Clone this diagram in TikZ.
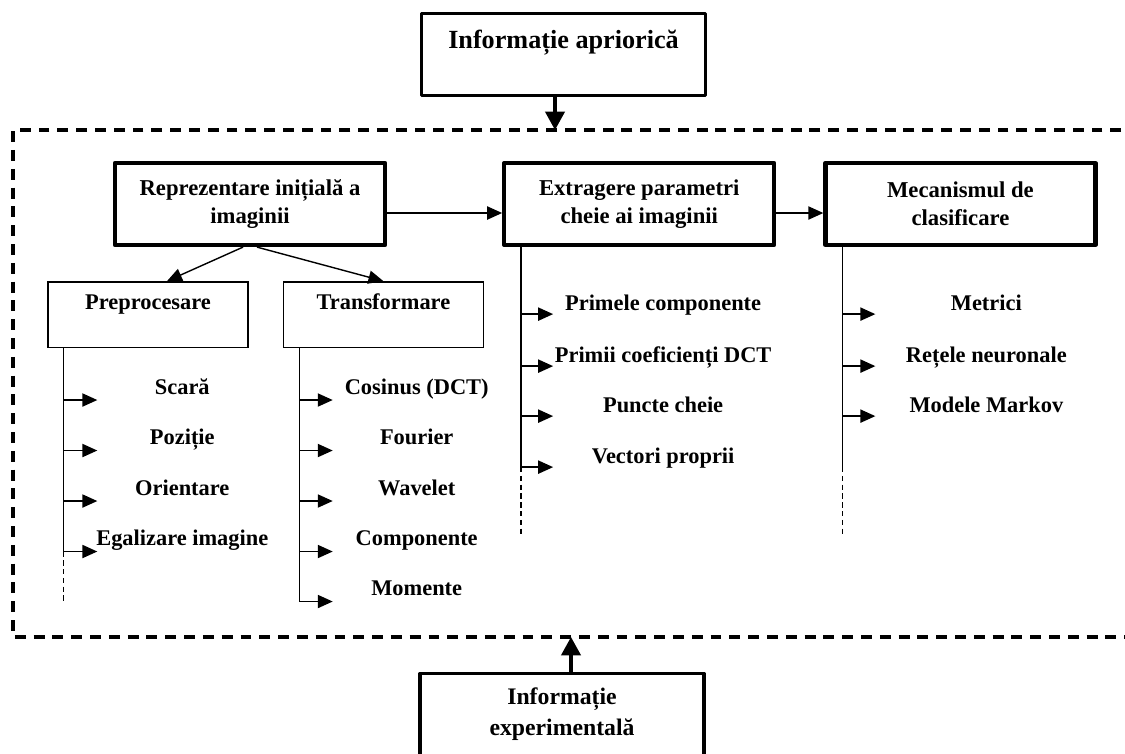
\documentclass[tikz,border=0pt]{standalone}
\usepackage{fontspec}
\setmainfont{Liberation Serif}
\usepackage{tikz}
\usetikzlibrary{arrows.meta,positioning,calc}

\begin{document}
\begin{tikzpicture}[
  infobox/.style={rectangle, draw, line width=1.9pt, line join=round, minimum width=5.68cm, minimum height=1.64cm, align=center, font=\fontsize{13.5}{17.6}\selectfont\bfseries},
  mainbox/.style={rectangle, draw, line width=2.4pt, line join=round, minimum width=5.4cm, minimum height=1.64cm, align=center, font=\fontsize{12.9}{15.9}\selectfont\bfseries},
  subbox/.style={rectangle, draw, line width=0.8pt, minimum width=4.0cm, minimum height=1.31cm, text height=9pt, text depth=14.7pt, font=\fontsize{12.75}{15.9}\selectfont\bfseries},
  item/.style={anchor=base, inner sep=0pt, font=\fontsize{12.75}{15.9}\selectfont\bfseries},
  tree/.style={line width=0.8pt},
  treedash/.style={line width=0.8pt, dash pattern=on 3pt off 2pt},
  frame/.style={line width=1.9pt, dash pattern=on 6.2pt off 4.5pt},
  link/.style={->, line width=0.8pt, >={Triangle[length=8.5pt, width=7.5pt]}},
  biglink/.style={->, line width=1.9pt, >={Triangle[length=10.5pt, width=11pt]}}
]
\useasboundingbox (0,0) rectangle (22.5,-15.06);
\clip (0,0) rectangle (22.5,-15.06);

% outer dashed frame
\coordinate (fr_nw) at (0.26,-2.6);
\coordinate (fr_sw) at (0.26,-12.74);
\draw[frame] (22.8,-2.6) -- (fr_nw) -- (fr_sw) -- (22.8,-12.74);

% information sources
\node[infobox, font=\fontsize{14.9}{17.6}\selectfont\bfseries, text height=10.5pt, text depth=17.6pt] (apriori) at (11.27,-1.09) {Informație apriorică};
\draw[biglink] ($(apriori.south)+(-0.17,0)$) coordinate (apr_out) -- (apr_out |- fr_nw);

\node[infobox] (experim) at (11.24,-14.29) {Informație\\experimentală};
\draw[biglink] ($(experim.north)+(0.18,0)$) coordinate (exp_out) -- (exp_out |- fr_sw);

% main chain
\node[mainbox] (rep) at (5.0,-4.08) {Reprezentare inițială a\\imaginii};
\node[mainbox, right=2.3cm of rep] (extr) {Extragere parametri\\cheie ai imaginii};
\node[mainbox, right=0.94cm of extr] (clas) {Mecanismul de\\clasificare};
\draw[link] ($(rep.east)+(0,-0.18)$) -- ($(extr.west)+(0,-0.18)$);
\draw[link] ($(extr.east)+(0,-0.18)$) -- ($(clas.west)+(0,-0.18)$);

% initial representation
\node[subbox, below=0.68cm of rep, xshift=-2.04cm] (pre) {Preprocesare};
\node[subbox, right=0.68cm of pre] (trans) {Transformare};
\draw[link] ($(rep.south)+(-0.14,0)$) -- ($(pre.north)+(0.38,0)$);
\draw[link] ($(rep.south)+(0.14,0)$) -- (trans.north);

% preprocessing list
\path ($(pre.south west)+(0.32,0)$) coordinate (pre_v)
  ++(0,-1.04) coordinate (pre1) ++(0,-1.01) coordinate (pre2)
  ++(0,-1.01) coordinate (pre3) ++(0,-1.01) coordinate (pre4)
  ++(0,-1.0) coordinate (pre_end);
\coordinate (pre_tip) at ($(pre_v)+(0.68,0)$);
\draw[tree] (pre_v) -- (pre4);
\draw[treedash] (pre4) -- (pre_end);
\draw[link] (pre1) -- (pre1 -| pre_tip);
\draw[link] (pre2) -- (pre2 -| pre_tip);
\draw[link] (pre3) -- (pre3 -| pre_tip);
\draw[link] (pre4) -- (pre4 -| pre_tip);
\node[item] (scara) at ($(pre1)+(2.38,0.12)$) {Scară};
\node[item] (pozitie) at ($(pre2)+(2.38,0.12)$) {Poziție};
\node[item] (orient) at ($(pre3)+(2.38,0.12)$) {Orientare};
\node[item] (egal) at ($(pre4)+(2.38,0.12)$) {Egalizare imagine};

% transform list
\path ($(trans.south west)+(0.34,0)$) coordinate (trans_v)
  ++(0,-1.04) coordinate (trans1) ++(0,-1.01) coordinate (trans2)
  ++(0,-1.01) coordinate (trans3) ++(0,-1.01) coordinate (trans4)
  ++(0,-1.0) coordinate (trans5);
\coordinate (trans_tip) at ($(trans_v)+(0.66,0)$);
\draw[tree] (trans_v) -- (trans5);
\draw[link] (trans1) -- (trans1 -| trans_tip);
\draw[link] (trans2) -- (trans2 -| trans_tip);
\draw[link] (trans3) -- (trans3 -| trans_tip);
\draw[link] (trans4) -- (trans4 -| trans_tip);
\draw[link] (trans5) -- (trans5 -| trans_tip);
\node[item] (cosinus) at ($(trans1)+(2.34,0.12)$) {Cosinus (DCT)};
\node[item] (fourier) at ($(trans2)+(2.34,0.12)$) {Fourier};
\node[item] (wavelet) at ($(trans3)+(2.34,0.12)$) {Wavelet};
\node[item] (compon) at ($(trans4)+(2.34,0.12)$) {Componente};
\node[item] (momente) at ($(trans5)+(2.34,0.12)$) {Momente};

% key parameters list
\path ($(extr.south west)+(0.38,0)$) coordinate (extr_v)
  ++(0,-1.34) coordinate (extr1) ++(0,-1.04) coordinate (extr2)
  ++(0,-1.0) coordinate (extr3) ++(0,-1.02) coordinate (extr4)
  ++(0,-1.38) coordinate (extr_end);
\coordinate (extr_tip) at ($(extr_v)+(0.64,0)$);
\draw[tree] (extr_v) -- (extr4);
\draw[treedash] (extr4) -- (extr_end);
\draw[link] (extr1) -- (extr1 -| extr_tip);
\draw[link] (extr2) -- (extr2 -| extr_tip);
\draw[link] (extr3) -- (extr3 -| extr_tip);
\draw[link] (extr4) -- (extr4 -| extr_tip);
\node[item] (primele) at ($(extr1)+(2.84,0.08)$) {Primele componente};
\node[item] (primii) at ($(extr2)+(2.84,0.08)$) {Primii coeficienți DCT};
\node[item] (puncte) at ($(extr3)+(2.84,0.08)$) {Puncte cheie};
\node[item] (vectori) at ($(extr4)+(2.84,0.08)$) {Vectori proprii};

% classifier list
\path ($(clas.south west)+(0.38,0)$) coordinate (clas_v)
  ++(0,-1.34) coordinate (clas1) ++(0,-1.04) coordinate (clas2)
  ++(0,-1.0) coordinate (clas3) ++(0,-1.02) coordinate (clas4)
  ++(0,-1.38) coordinate (clas_end);
\coordinate (clas_tip) at ($(clas_v)+(0.66,0)$);
\draw[tree] (clas_v) -- (clas4);
\draw[treedash] (clas4) -- (clas_end);
\draw[link] (clas1) -- (clas1 -| clas_tip);
\draw[link] (clas2) -- (clas2 -| clas_tip);
\draw[link] (clas3) -- (clas3 -| clas_tip);
\node[item] (metrici) at ($(clas1)+(2.88,0.08)$) {Metrici};
\node[item] (retele) at ($(clas2)+(2.88,0.08)$) {Rețele neuronale};
\node[item] (markov) at ($(clas3)+(2.88,0.08)$) {Modele Markov};

\end{tikzpicture}
\end{document}
